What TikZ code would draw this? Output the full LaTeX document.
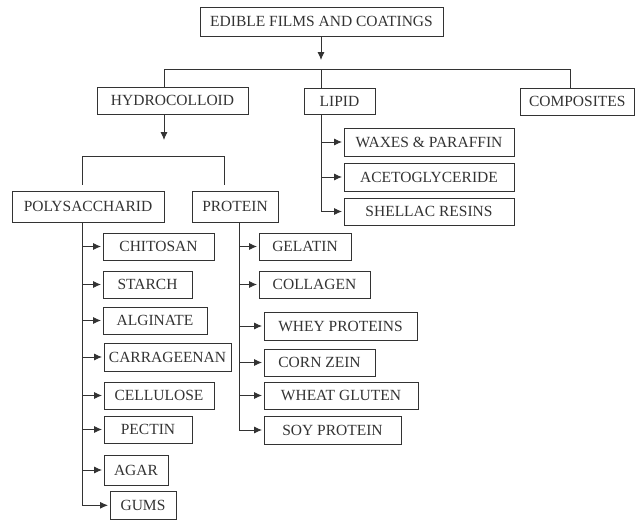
\documentclass[tikz,border=0pt]{standalone}
\usepackage{fontspec}
\setmainfont{Liberation Serif}
\usetikzlibrary{arrows.meta}
\definecolor{ink}{gray}{0.2}
\tikzstyle{box}=[draw=ink,line width=0.9pt,inner sep=0pt,text=ink,font=\fontsize{15.5}{18}\selectfont]
\tikzstyle{edge}=[draw=ink,line width=0.9pt]
\tikzstyle{tip}=[-{Latex[length=8pt,width=7pt]},shorten >=1.5pt]

\begin{document}
\begin{tikzpicture}[x=1pt,y=-1pt]
    \useasboundingbox (0,0) rectangle (635,520);
    % First we draw the boxes
    \foreach \pos/\w/\h/\name/\txt in {{(321.5,21.5)/243/29/top/EDIBLE FILMS AND COATINGS},
        {(172.5,100.5)/151/27/hyd/HYDROCOLLOID}, {(339.5,101)/71/26/lipid/LIPID},
        {(577.3,101.5)/114/27/comp/COMPOSITES},
        {(429,142)/170/28/waxes/WAXES \& PARAFFIN}, {(429,177)/170/28/aceto/ACETOGLYCERIDE},
        {(429,211.5)/170/27/shellac/SHELLAC RESINS},
        {(88,206.5)/152/31/poly/POLYSACCHARID}, {(235,206.5)/86/31/prot/PROTEIN}}
        \node[box, minimum width=\w pt, minimum height=\h pt] (\name) at \pos {\txt};
    \foreach \pos/\w/\h/\name/\txt in {{(158.5,246.5)/111/27/chitosan/CHITOSAN},
        {(147.5,284.5)/89/27/starch/STARCH}, {(155,320.5)/104/27/alginate/ALGINATE},
        {(167.5,357)/127/28/carrageenan/CARRAGEENAN}, {(159,395.5)/110/27/cellulose/CELLULOSE},
        {(148,429.5)/88/27/pectin/PECTIN}, {(136,470)/64/30/agar/AGAR},
        {(143,505.3)/66/28.5/gums/GUMS}}
        \node[box, minimum width=\w pt, minimum height=\h pt] (\name) at \pos {\txt};
    \foreach \pos/\w/\h/\name/\txt in {{(305,246.5)/92/27/gelatin/GELATIN},
        {(314.5,284.5)/111/27/collagen/COLLAGEN}, {(340.5,326)/153/28/whey/WHEY PROTEINS},
        {(319.5,362.5)/111/27/corn/CORN ZEIN}, {(341,395.5)/154/27/wheat/WHEAT GLUTEN},
        {(332.5,430)/137/28/soy/SOY PROTEIN}}
        \node[box, minimum width=\w pt, minimum height=\h pt] (\name) at \pos {\txt};

    % Junction points of the tree
    \coordinate (bus) at (321,69);
    \coordinate (busl) at (164,69);
    \coordinate (busr) at (570,69);
    \coordinate (psl) at (82,156);
    \coordinate (psr) at (224,156);
    \coordinate (ps) at (poly.south -| psl);
    \coordinate (ls) at (lipid.south -| bus);
    \coordinate (prs) at (239,222);

    % Then the connectors
    \path[edge, tip, shorten >=9pt] (top.south -| bus) -- (bus);
    \path[edge] (busl |- hyd.north) -- (busl) -- (busr) -- (busr |- comp.north);
    \path[edge] (bus) -- (bus |- lipid.north);
    \path[edge, tip, shorten >=16pt] (hyd.south -| busl) -- (busl |- psl);
    \path[edge, shorten <=6pt, shorten >=6pt] (psl |- poly.north) -- (psl) -- (psr) -- (psr |- prot.north);

    \path[edge] (ls) -- (ls |- shellac.west);
    \foreach \dest in {waxes,aceto,shellac}
        \path[edge, tip] (ls |- \dest.west) -- (\dest.west);
    \path[edge] (ps) -- (ps |- gums.west);
    \foreach \dest in {chitosan,starch,alginate,carrageenan,cellulose,pectin,agar,gums}
        \path[edge, tip] (ps |- \dest.west) -- (\dest.west);
    \path[edge] (prs) -- (prs |- soy.west);
    \foreach \dest in {gelatin,collagen,whey,corn,wheat,soy}
        \path[edge, tip] (prs |- \dest.west) -- (\dest.west);
\end{tikzpicture}
\end{document}
